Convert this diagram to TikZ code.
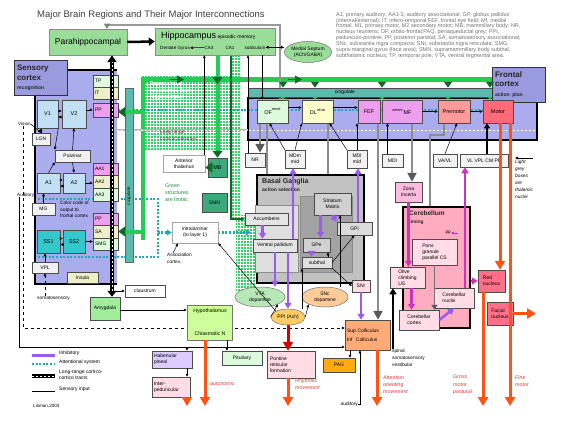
\documentclass[tikz,border=0pt]{standalone}
\usepackage{fontspec}
\setmainfont{Liberation Sans}
\usetikzlibrary{arrows.meta,patterns,shapes.geometric,decorations.markings}

\definecolor{lav}{HTML}{AAACEE}
\definecolor{lavbox}{HTML}{9A9ADF}
\definecolor{hipgreen}{HTML}{99DD99}
\definecolor{papezgreen}{HTML}{33D466}
\definecolor{limegreen}{HTML}{22CC55}
\definecolor{dkgreen}{HTML}{0F6A2A}
\definecolor{cingteal}{HTML}{5BBAAB}
\definecolor{mbgreen}{HTML}{3AAA7A}
\definecolor{lblue}{HTML}{C2E0F4}
\definecolor{thal}{HTML}{F2F2F2}
\definecolor{ssblue}{HTML}{33C8CC}
\definecolor{assoctan}{HTML}{EEEECA}
\definecolor{areapink}{HTML}{EE9EEE}
\definecolor{paleg}{HTML}{DDFADD}
\definecolor{paley}{HTML}{FFFFCC}
\definecolor{premot}{HTML}{FF9A9A}
\definecolor{motred}{HTML}{FF6A78}
\definecolor{inhib}{HTML}{9A5CEE}
\definecolor{magen}{HTML}{CC33BB}
\definecolor{attncol}{HTML}{22A8B8}
\definecolor{outorange}{HTML}{FF5214}
\definecolor{outlabel}{HTML}{DD3838}
\definecolor{cerepink}{HTML}{FFABC0}
\definecolor{palepink}{HTML}{FFDCE6}
\definecolor{amyg}{HTML}{A0EE9A}
\definecolor{hypo}{HTML}{CCFF99}
\definecolor{haben}{HTML}{DDCCFF}
\definecolor{peach}{HTML}{FFAA77}
\definecolor{sncol}{HTML}{FFCC99}
\definecolor{ppicol}{HTML}{FFCC66}
\definecolor{pagcol}{HTML}{FFAA11}
\definecolor{rednuc}{HTML}{FF6F88}
\definecolor{zona}{HTML}{FFBBDD}

\pgfdeclarelayer{bg}
\pgfdeclarelayer{back}
\pgfsetlayers{bg,back,main}

\newcommand{\supnote}[1]{\raisebox{3.5pt}{\fontsize{3.8}{4}\selectfont #1}}

\tikzset{
  box/.style={draw=black!70, line width=.5pt, inner sep=.5pt, align=center,
    font=\fontsize{5}{5.8}\selectfont},
  col/.style={box, minimum width=25pt, minimum height=12pt, text width=21pt, align=left},
  ell/.style={ellipse, draw=black!55, line width=.5pt, inner sep=0pt, align=center,
    font=\fontsize{5}{5.8}\selectfont},
  txt/.style={inner sep=0pt, align=left, font=\fontsize{5}{5.8}\selectfont},
  bigtitle/.style={font=\bfseries\fontsize{8}{9.5}\selectfont, text=black!85},
  outtxt/.style={txt, text=outlabel, font=\itshape\fontsize{5.3}{7.2}\selectfont},
  thinarr/.style={draw=black, line width=.5pt, -{Triangle[length=3pt,width=2.6pt]}},
  grayarr/.style={draw=black!45, line width=2.2pt, -{Triangle[length=9pt,width=9pt,color=black!65]}},
  inhibarr/.style={draw=inhib, line width=2.6pt, -{Triangle[length=6pt,width=7pt]}},
  magarr/.style={draw=magen, line width=2.6pt, -{Triangle[length=6pt,width=7pt]}},
  outarr/.style={draw=outorange, line width=3pt, -{Triangle[length=9pt,width=10pt]}},
  limbarr/.style={draw=limegreen, line width=4pt, -{Triangle[length=7pt,width=10pt,color=dkgreen]}},
  attn/.style={draw=attncol, line width=2.2pt, dash pattern=on 2pt off 1.6pt},
  tract/.style={draw=black, line width=3.2pt,
    {Triangle[length=6pt,width=9pt]}-{Triangle[length=7pt,width=9pt]},
    postaction={draw=white, line width=.9pt, dash pattern=on 2pt off 2pt, arrows=-,
      shorten <=6pt, shorten >=7pt}},
}

\begin{document}
\begin{tikzpicture}[x=1pt,y=-1pt]
\useasboundingbox (0,0) rectangle (567,420);

% ---------- regions
\begin{pgfonlayer}{bg}
\fill[white] (0,0) rectangle (567,420);
\fill[lav] (35,70) rectangle (117,284);
\draw[line width=2.5pt] (67,70) -- (117,70);
\draw[line width=2.5pt] (35,95) -- (35,284) -- (117,284);
\fill[lav] (248,98) rectangle (537,140);
\draw[line width=2pt] (248,98) rectangle (537,140);
\fill[papezgreen] (142,76) rectangle (232,150) (232,55) rectangle (240,220) (236,215) rectangle (255,292);
\fill[pattern=grid, pattern color=white] (142,76) rectangle (232,150) (232,55) rectangle (240,220) (236,215) rectangle (255,292);
\draw[limegreen, line width=5pt] (142,79.5) -- (492,79.5);
\draw[limegreen, line width=4pt] (143,77) -- (143,240);
\end{pgfonlayer}

% ---------- texts
\node[txt, anchor=west, font=\fontsize{9.5}{11}\selectfont, text=black!75] (title) at (37,15)
  {Major Brain Regions and Their Major Interconnections};
\node[txt, anchor=north west, text=black!55, font=\fontsize{5.5}{5.85}\selectfont] (abbrev) at (336,12)
  {A1, primary auditory; AA1-3, auditory associational; GP, globus pallidus\\
   (internal/external); IT, infero-temporal;FEF, frontal eye field; Mf, medial\\
   frontal, M1, primary motor, M2 secondary motor; MB, mammillary body; NR,\\
   nucleus reuniens; OF, orbito-frontal;PAQ, periaqueductal grey; PPI,\\
   pedunculo-pontine; PP, posterior parietal; SA, somatosensory associational;\\
   SNc, substantia nigra compacta; SNr, substantia nigra reticulata; SMG,\\
   supra-marginal gyrus (face area); SMN, supramammillary body subthal,\\
   subthalamic nucleus; TP, temporal pole; VTA, ventral tegmental area.};

% ---------- hippocampal formation
\node[box, fill=hipgreen, draw=black!45, minimum width=78pt, minimum height=26pt,
  font=\fontsize{8.5}{10}\selectfont] (parahip) at (88,42) {Parahippocampal};
\node[box, fill=hipgreen, draw=black!45, minimum width=120pt, minimum height=27pt] (hippo) at (215,41.5) {};
\node[txt, anchor=base west] (hippolbl) at (161,39)
  {{\fontsize{9}{10}\selectfont Hippocampus} {\fontsize{5}{6}\selectfont episodic memory}};
\node[txt, anchor=base west, font=\fontsize{4.6}{5}\selectfont] (DG) at (160,49) {Dentate Gyrus};
\node[txt, anchor=base, font=\fontsize{4.6}{5}\selectfont] (CA3) at (209,49) {CA3};
\node[txt, anchor=base, font=\fontsize{4.6}{5}\selectfont] (CA1) at (230,49) {CA1};
\node[txt, anchor=base, font=\fontsize{4.6}{5}\selectfont] (subic) at (255,49) {subiculum};
\node[ell, fill=hipgreen, minimum width=47pt, minimum height=21pt] (septum) at (308,52) {Medial Septum\\(ACh/GABA)};

% ---------- sensory cortex
\node[box, fill=lavbox, draw=black!80, line width=1pt, minimum width=53pt, minimum height=34pt,
  text width=47pt, align=left, bigtitle] (senscx) at (40.5,78)
  {Sensory\\cortex\\{\fontsize{5}{6}\selectfont recognition}};
\node[box, fill=lblue, minimum width=21pt, minimum height=28pt, font=\fontsize{5.5}{6}\selectfont] (V1) at (47.5,114) {V1};
\node[box, fill=lblue, minimum width=24pt, minimum height=28pt, font=\fontsize{5.5}{6}\selectfont] (V2) at (74,114) {V2};
\node[box, fill=thal, minimum width=18pt, minimum height=12pt] (LGN) at (41,139) {LGN};
\node[box, fill=thal, minimum width=35pt, minimum height=12pt] (pulv) at (72.5,156) {Pulvinar};
\node[box, fill=lblue, minimum width=23pt, minimum height=20pt, font=\fontsize{5.5}{6}\selectfont] (A1) at (48.5,183) {A1};
\node[box, fill=lblue, minimum width=22pt, minimum height=20pt, font=\fontsize{5.5}{6}\selectfont] (A2) at (74,183) {A2};
\node[box, fill=thal, minimum width=23pt, minimum height=12pt] (MG) at (43.5,209) {MG};
\node[box, fill=ssblue, minimum width=23pt, minimum height=23pt, font=\fontsize{5.5}{6}\selectfont] (SS1) at (48.5,241.5) {SS1};
\node[box, fill=ssblue, minimum width=22pt, minimum height=23pt, font=\fontsize{5.5}{6}\selectfont] (SS2) at (74,241.5) {SS2};
\node[box, fill=thal, minimum width=26pt, minimum height=11pt] (VPL) at (45,267.5) {VPL};
\node[box, fill=assoctan, minimum width=31pt, minimum height=11pt] (insula) at (82.5,277.5) {Insula};
\node[col, fill=paleg] (TP) at (105.5,81) {TP};
\node[col, fill=assoctan] (IT) at (105.5,93) {IT};
\node[col, fill=areapink, minimum height=14pt] (PP) at (105.5,110) {PP};
\node[col, fill=areapink] (AA1) at (105.5,169) {AA1};
\node[col, fill=assoctan, minimum height=13pt] (AA2) at (105.5,181.5) {AA2};
\node[col, fill=paleg, minimum height=13pt] (AA3) at (105.5,194.5) {AA3};
\node[col, fill=areapink] (PPb) at (105.5,219) {PP};
\node[col, fill=assoctan, minimum height=13pt] (SA) at (105.5,231.5) {SA};
\node[col, fill=paleg] (SMG) at (105.5,244) {SMG};
\node[txt, anchor=west, font=\fontsize{4.6}{5}\selectfont] (vision) at (18,124) {Vision};
\node[txt, anchor=west, font=\fontsize{4.6}{5}\selectfont] (audit) at (17,195) {Auditory};
\node[txt, anchor=north west, font=\fontsize{4.8}{6.5}\selectfont] (colorcode) at (60,201) {Color code of\\output to\\frontal cortex};
\node[txt, anchor=west, font=\fontsize{4.8}{5}\selectfont] (somato) at (37,298) {somatosensory};
\node[box, fill=white, minimum width=40pt, minimum height=12pt] (claustrum) at (145,291) {claustrum};
\node[box, fill=amyg, minimum width=30pt, minimum height=23pt] (amygdala) at (105,308.5) {Amygdala};

% ---------- limbic
\node[box, fill=cingteal, draw=black!60, minimum width=8pt, minimum height=174pt] (cingv) at (129,175) {};
\node[txt, rotate=90, font=\fontsize{4.5}{5}\selectfont] (cingvlbl) at (129,196) {cingulate};
\node[box, fill=cingteal, minimum width=244pt, minimum height=9pt] (cing) at (370,92.5) {};
\node[txt] (cinglbl) at (345,92.5) {cingulate};
\node[txt, anchor=north west, text=white, font=\bfseries\fontsize{5.2}{6.4}\selectfont] (papezlbl) at (150,82)
  {Papez circuit\\association from\\hippocampus};
\node[txt, anchor=north west, text=black!75, font=\fontsize{4.8}{7}\selectfont] (longlbl) at (160,130)
  {Long range\\cortical pathways};
\node[box, fill=white, draw=black!35, minimum width=42pt, minimum height=17pt] (antthal) at (184,163.5) {Anterior\\thalamus};
\node[box, fill=mbgreen, minimum width=19pt, minimum height=19pt, font=\fontsize{5.5}{6}\selectfont] (MB) at (217.5,167.5) {MB};
\node[box, fill=mbgreen, minimum width=25pt, minimum height=19pt] (SMN) at (214.5,202.5) {SMN};
\node[txt, anchor=north west, text=limegreen!70!black, font=\fontsize{5.3}{7}\selectfont] (greenlbl) at (165,184)
  {Green\\structures\\are limbic};
\node[box, fill=white, draw=black!35, minimum width=46pt, minimum height=21pt] (intral) at (195,232.5) {intralaminar\\(to layer 1)};
\node[txt, anchor=north west, font=\fontsize{4.8}{6.5}\selectfont] (assoc) at (167,253) {Association\\cortex,};

% ---------- frontal cortex
\node[box, fill=lavbox, draw=black!80, line width=1pt, minimum width=53pt, minimum height=35pt,
  text width=47pt, align=left, bigtitle] (frontcx) at (518.5,84.5)
  {Frontal\\cortex\\{\fontsize{5}{6}\selectfont action plan}};
\node[box, fill=paleg, minimum width=31pt, minimum height=23pt, font=\fontsize{5.5}{6}\selectfont] (OF) at (272.5,111.5) {OF\supnote{emot}};
\node[box, fill=paley, minimum width=31pt, minimum height=23pt, font=\fontsize{5.5}{6}\selectfont] (DL) at (317.5,111.5) {DL\supnote{what}};
\node[box, fill=areapink, minimum width=22pt, minimum height=23pt, font=\fontsize{5.5}{6}\selectfont] (FEF) at (369,111.5) {FEF};
\node[box, fill=areapink, minimum width=40pt, minimum height=23pt, font=\fontsize{5.5}{6}\selectfont] (MF) at (402,111.5) {\supnote{where}\,MF};
\node[box, fill=premot, minimum width=32pt, minimum height=23pt, font=\fontsize{5.5}{6}\selectfont] (premot) at (454,111.5) {Premotor};
\node[box, fill=motred, minimum width=30pt, minimum height=23pt, font=\fontsize{5.5}{6}\selectfont] (motor) at (498,111.5) {Motor};

% ---------- thalamus
\node[box, fill=thal, minimum width=20pt, minimum height=14pt] (NR) at (255,160) {NR};
\node[box, fill=thal, minimum width=20pt, minimum height=18pt] (MDm) at (295,159) {MDm\\mid};
\node[box, fill=thal, minimum width=20pt, minimum height=18pt] (MDl) at (357,159) {MDl\\mid};
\node[box, fill=thal, minimum width=21pt, minimum height=13pt] (MDI) at (392.5,160.5) {MDI};
\node[box, fill=thal, minimum width=24pt, minimum height=13pt] (VAVL) at (445,160.5) {VA/VL};
\node[box, fill=thal, minimum width=48pt, minimum height=13pt] (VLVPL) at (484,160.5) {VL VPL CM PF};
\node[txt, anchor=north west, font=\itshape\fontsize{4.8}{7}\selectfont] (lightlbl) at (515,160)
  {Light\\grey\\boxes\\are\\thalamic\\nuclei};
\coordinate (lightarr) at (533,158);

% ---------- basal ganglia
\node[box, fill=black!24, draw=black, line width=2pt, minimum width=107pt, minimum height=108pt] (BG) at (310.5,229) {};
\node[box, fill=black!13, draw=black!45, minimum width=43pt, minimum height=67pt] (ventral) at (276.5,238.5) {};
\node[box, fill=black!36, draw=black!45, minimum width=52pt, minimum height=76pt] (dorsal) at (326,234) {};
\node[txt, anchor=north west, bigtitle, font=\bfseries\fontsize{7}{8.5}\selectfont] (BGlbl) at (262,178)
  {Basal Ganglia\\{\fontsize{5}{6}\selectfont action selection}};
\node[box, fill=black!18, minimum width=37pt, minimum height=22pt] (striatum) at (332.5,204) {Striatum\\Matrix};
\node[box, fill=black!10, minimum width=43pt, minimum height=12pt] (accumb) at (266.5,219) {Accumbens};
\node[box, fill=black!10, minimum width=44pt, minimum height=13pt] (vpall) at (275,245.5) {Ventral pallidum};
\node[box, fill=black!18, minimum width=27pt, minimum height=14pt] (GPe) at (316.5,245) {GPe};
\node[box, fill=black!12, minimum width=30pt, minimum height=11pt] (subthal) at (317,262.5) {subthal};
\node[box, fill=black!14, minimum width=35pt, minimum height=13pt] (GPi) at (354.5,228.5) {GPi};
\node[ell, fill=hipgreen!70!white, minimum width=50pt, minimum height=20pt] (VTA) at (260,297) {VTA\\dopamine};
\node[ell, fill=sncol, minimum width=46pt, minimum height=20pt] (SNc) at (325,297) {SNc\\dopamine};
\node[ell, fill=ppicol, minimum width=34pt, minimum height=16pt] (PPI) at (288,317) {PPI (Ach)};
\node[box, fill=palepink, minimum width=18pt, minimum height=12pt] (SNr) at (361,286) {SNr};

% ---------- cerebellum
\node[box, fill=zona, minimum width=27pt, minimum height=20pt] (zona) at (408.5,192) {Zona\\Incerta};
\node[box, fill=cerepink, draw=black, line width=2pt, minimum width=67pt, minimum height=121pt] (cereb) at (436.5,267.5) {};
\node[txt, anchor=north west, bigtitle, font=\bfseries\fontsize{6.5}{7.5}\selectfont] (cereblbl) at (409,211)
  {Cerebellum\\{\fontsize{4.8}{5.5}\selectfont timing}};
\node[box, fill=palepink, minimum width=45pt, minimum height=26pt, align=left] (pons) at (434.5,252) {Pons\\granule\\parallel CS};
\node[box, fill=palepink, minimum width=35pt, minimum height=21pt, align=left] (olive) at (407.5,277.5) {Olive\\climbing\\US};
\node[box, fill=palepink, minimum width=40pt, minimum height=20pt, align=left] (cnuc) at (454,298) {Cerebellar\\nuclei};
\node[box, fill=palepink, minimum width=40pt, minimum height=20pt, align=left] (ccortex) at (419,320) {Cerebellar\\cortex};
\node[txt, anchor=east, font=\fontsize{4.6}{5}\selectfont] (pplbl) at (451,233) {pp};
\node[box, fill=rednuc, minimum width=27pt, minimum height=22pt, align=left] (rednuc) at (491.5,281) {Red\\nucleus};
\node[box, fill=rednuc, minimum width=26pt, minimum height=23pt, align=left] (facial) at (500,313.5) {Facial\\nucleus};

% ---------- brainstem
\node[box, fill=hypo, draw=black!55, minimum width=45pt, minimum height=35pt] (hypoth) at (209.5,322.5) {};
\node[txt, font=\fontsize{5.2}{6}\selectfont] (hypolbl) at (210,311) {Hypothalamus};
\node[txt, font=\fontsize{5.2}{6}\selectfont] (chiasm) at (210,334) {Chiasmatic N};
\node[box, fill=haben, minimum width=40pt, minimum height=17pt, text width=36pt, align=left] (haben) at (172,359.5) {Habenular\\pineal};
\node[box, fill=palepink, minimum width=38pt, minimum height=20pt, text width=34pt, align=left] (interp) at (171,387) {Inter-\\peduncular};
\node[box, fill=paleg, minimum width=40pt, minimum height=14pt] (pituit) at (242,358) {Pituitary};
\node[box, fill=palepink, minimum width=48pt, minimum height=27pt, text width=42pt, align=left] (pontine) at (291,364.5) {Pontine\\reticular\\formation};
\node[box, fill=pagcol, minimum width=32pt, minimum height=14pt] (PAG) at (339,365) {PAG};
\node[box, fill=peach, minimum width=45pt, minimum height=30pt, text width=41pt, align=left] (supc) at (367.5,335) {Sup Colliculus\\[3pt]Inf\ \ Colliculus};
\node[txt, anchor=north west, font=\fontsize{4.8}{6.8}\selectfont] (spinal) at (392,349) {spinal\\somatosensory\\vestibular};
\node[txt, anchor=base east, font=\fontsize{4.8}{5}\selectfont] (audlbl) at (358,405) {auditory};

% ---------- output labels
\node[outtxt, anchor=base west] (autolbl) at (210,385) {autonomic};
\node[outtxt, anchor=north west] (rhythlbl) at (295,378) {Rhythmic\\movement};
\node[outtxt, anchor=north west] (orientlbl) at (383,375) {Attention\\orienting\\movement};
\node[outtxt, anchor=north west] (grosslbl) at (453,375) {Gross\\motor\\postural};
\node[outtxt, anchor=north west] (finelbl) at (515,375) {Fine\\motor};
\coordinate (endinterp) at (187,406);
\coordinate (endchiasm) at (205,406);
\coordinate (endpontine) at (288,406);
\coordinate (endsupc) at (377,406);
\coordinate (endred) at (483,406);
\coordinate (endmotor) at (510,406);
\coordinate (endfacial) at (536,313.5);

% ---------- legend
\coordinate (legA) at (32,355); \coordinate (legB) at (32,364);
\coordinate (legC) at (32,376); \coordinate (legD) at (32,391);
\draw[inhib, line width=3pt] (legA) -- ++(23,0);
\draw[attn] (legB) -- ++(23,0);
\draw[line width=3.2pt] (legC) -- ++(23,0);
\draw[white, line width=.9pt, dash pattern=on 2pt off 2pt] (legC) -- ++(23,0);
\draw[line width=.5pt] (legD) -- ++(23,0);
\node[txt, anchor=west] (legAt) at (59,353) {Inhibitory};
\node[txt, anchor=west] (legBt) at (59,362) {Attentional system};
\node[txt, anchor=west] (legCt) at (59,375) {Long-range cortico-\\cortico tracts};
\node[txt, anchor=west] (legDt) at (59,389) {Sensory input};
\node[txt, anchor=west, font=\fontsize{4.6}{5}\selectfont] (author) at (33,406) {Lisman,2003};

% ---------- connectors under boxes
\begin{pgfonlayer}{back}
\draw[attn] (PP.east) -- (PP.east -| motor.west);
\coordinate (attnA) at (38,199); \coordinate (attnB) at (38,257);
\draw[attn] (attnA) -| ([xshift=-14pt]intral.west);
\draw[attn] (attnB) -| ([xshift=-14pt]intral.west);
\draw[attn, -{Triangle[length=5pt,width=6pt]}] ([xshift=-14pt]intral.west) -- (intral.west);
\coordinate (attnC) at (251,232.5);
\draw[attn, -{Triangle[length=5pt,width=6pt]}] (intral.east) -- (attnC);
\coordinate (tractL) at (117,130); \coordinate (tractR) at (535,130);
\draw[draw=black!30, line width=2pt] (tractL) -- (tractR);
\draw[white, line width=.7pt, dash pattern=on 2pt off 2pt] (tractL) -- (tractR);
\draw[dashed, line width=.5pt, -{Triangle[length=3pt,width=2.6pt]}] ([xshift=5pt]vision.south west) |- ([yshift=7pt]supc.west);
\draw[thinarr] ([xshift=2pt]audit.south west) |- ([yshift=-12pt]supc.west);
\draw[draw=black!40, line width=1.8pt, -{Triangle[length=5pt,width=6pt,color=black!50]}]
  ([xshift=7.5pt]OF.north) -- ++(0,-75) -| ([xshift=19pt]parahip.north);
\coordinate (fimb) at (231,55);
\draw[dkgreen, line width=1.2pt, -{Triangle[length=4pt,width=4pt]}] (fimb) |- (accumb.west);
\draw[grayarr] ([xshift=-12.5pt]OF.south) -- ([xshift=-12.5pt]OF.south |- NR.north);
\draw[grayarr] ([xshift=-5.5pt]OF.south) -- ([xshift=-5.5pt]OF.south |- accumb.north);
\draw[grayarr] ([xshift=10.5pt]DL.south) -- ([xshift=10.5pt]DL.south |- striatum.north);
\draw[grayarr] ([xshift=10pt]MF.south) -- ([xshift=10pt]MF.south |- zona.north);
\draw[grayarr] ([xshift=9pt]FEF.south) -- ([xshift=9pt]FEF.south |- supc.north);
\draw[grayarr] ([xshift=-10pt]premot.south) -- ++(0,12) -| ([xshift=-4.5pt]pons.north);
\end{pgfonlayer}

% ---------- green limbic connectors
\foreach \bx/\dx in {OF/10.5, DL/-2.5, MF/-20, premot/-6, motor/-8}{
  \draw[dkgreen, line width=1.5pt, -{Triangle[length=6pt,width=8pt]}] ([xshift=\dx pt]\bx.north |- 0,82) -- ([xshift=\dx pt]\bx.north |- cing.north);
  \draw[limegreen, line width=1.5pt, -{Triangle[length=3pt,width=5pt]}] ([xshift=\dx pt]\bx.north |- cing.south) -- ([xshift=\dx pt]\bx.north);
}
\draw[dkgreen, line width=1pt, -{Triangle[length=7pt,width=8pt]}] (170,79.5) -- (184,79.5);
\draw[dkgreen, line width=1pt, -{Triangle[length=7pt,width=8pt]}] (288,79.5) -- (302,79.5);
\draw[limbarr, postaction={decorate, decoration={markings,
  mark=at position 0.28 with {\arrow{Triangle[length=7pt,width=10pt,color=dkgreen]}}}}]
  (hippo.south -| MB.north) -- (MB.north);
\draw[limbarr] (MB.west) -- (MB.west -| antthal.east);
\coordinate (limbPP) at (143,112); \coordinate (limbSA) at (143,231.5);
\draw[limbarr] (limbPP) -- (limbPP -| PP.east);
\draw[limbarr] (limbSA) -- (limbSA -| SA.east);

% ---------- tracts
\draw[tract] ([xshift=7pt]amygdala.north) -- ([xshift=7pt]amygdala.north |- parahip.south);
\draw[thinarr] ([xshift=7pt]amygdala.north |- claustrum.west) -- (claustrum.west);

% ---------- thin connectors
\draw[draw=black, line width=2.5pt, -{Triangle[length=6pt,width=8pt]}] (parahip.east) -- (hippo.west);
\draw[thinarr] (CA3.west) -- (DG.east);
\draw[thinarr, {Triangle[length=3pt,width=2.6pt]}-{Triangle[length=3pt,width=2.6pt]}] (subic.east) -- (subic.east -| septum.west);
\draw[thinarr] ([xshift=-7pt]NR.north) -- ([xshift=-7pt]NR.north |- hippo.south);
\draw[thinarr] ([xshift=-1pt]antthal.north east) -- ([xshift=-1pt]antthal.north east |- hippo.south);
\draw[thinarr, line width=1pt] ([xshift=47pt]hippo.south) -- ([xshift=47pt]hippo.south |- OF.north);
\draw[thinarr] (vision.east) -- (LGN.north);
\draw[thinarr] (LGN.north) -- (LGN.north |- V1.south);
\draw[thinarr] ([yshift=3pt]V1.east) -- ([yshift=3pt]V2.west);
\draw[thinarr] ([yshift=-3pt]V2.west) -- ([yshift=-3pt]V1.east);
\draw[thinarr] (V2.east |- PP.west) -- (PP.west);
\draw[thinarr] (pulv.north) -- (V2.south);
\draw[thinarr] (V1.south east) -- (pulv.north west);
\draw[thinarr] (A1.north) -- (pulv.south west);
\draw[thinarr] (pulv.south) -- (A2.north);
\draw[thinarr] ([yshift=3pt]A1.east) -- ([yshift=3pt]A2.west);
\draw[thinarr] ([yshift=-3pt]A2.west) -- ([yshift=-3pt]A1.east);
\draw[thinarr] (A2.east) -- (A2.east -| AA2.west);
\draw[thinarr] (MG.north) -- (MG.north |- A1.south);
\draw[thinarr] ([yshift=3pt]SS1.east) -- ([yshift=3pt]SS2.west);
\draw[thinarr] ([yshift=-3pt]SS2.west) -- ([yshift=-3pt]SS1.east);
\draw[thinarr] (SS2.east) -- (SS2.east -| SMG.west);
\draw[thinarr] (VPL.north) -- (VPL.north |- SS1.south);
\draw[dashed, thinarr] ([xshift=8pt]somato.north west) -- ([xshift=8pt]somato.north west |- VPL.south);
\draw[thinarr] (amygdala.east |- 0,310) -- (hypoth.west |- 0,310);
\draw[thinarr] ([xshift=17.5pt]hypoth.south) -- ([xshift=17.5pt]hypoth.south |- pituit.north);
\draw[thinarr] ([xshift=15pt]haben.north |- 0,347) -- ([xshift=15pt]haben.north);
\draw[thinarr] ([xshift=15pt]haben.south) -- ([xshift=15pt]haben.south |- interp.north);
\draw[thinarr] ([xshift=-17.5pt]supc.south) -- ([xshift=-17.5pt]supc.south |- PAG.north);
\draw[thinarr] (audlbl.east) -| ([xshift=-7.5pt]supc.south);
\draw[draw=black, line width=2pt, -{Triangle[length=6pt,width=7pt]}] ([xshift=1pt]spinal.north west) -- ([xshift=1pt]spinal.north west |- olive.south);
\draw[thinarr] (assoc.north west) ++(6,0) -- ([xshift=-17pt]intral.south);
\draw[thinarr] (lightarr) -- (lightarr -| lightlbl.west);
% thalamus to frontal
\draw[thinarr] (MDm.north west) -- ([xshift=-3pt]OF.south);
\draw[thinarr] (MDm.north) -- (DL.south west);
\draw[thinarr] (MDl.north west) -- ([xshift=12pt]DL.south);
\draw[thinarr] (MDl.north) -- (MDl.north |- FEF.south);
\draw[thinarr] ([xshift=-5pt]MDI.north) -- ([xshift=-5pt]MDI.north |- MF.south);
\draw[thinarr] (VAVL.north) -- ([xshift=3pt]premot.south);
\draw[draw=black, line width=1.5pt, -{Triangle[length=5pt,width=6pt]}] ([xshift=-11pt]motor.south |- VLVPL.north) -- ([xshift=-11pt]motor.south);
\draw[thinarr] ([yshift=4pt]OF.east) -- ([yshift=4pt]DL.west);
\draw[thinarr] ([yshift=4pt]DL.east) -- ([yshift=4pt]FEF.west);
\draw[thinarr] (MF.east) -- (premot.west);
\draw[thinarr] (premot.east) -- (motor.west);
% basal ganglia
\draw[thinarr] (PPI.north west) -- (intral.south east);
\draw[thinarr] (PPI.west) -- (VTA.south east);
\draw[thinarr] (PPI.east) -- (SNc.south west);
\draw[thinarr] ([xshift=14pt]PPI.north) -- ([xshift=14pt]PPI.north |- subthal.south);
\draw[thinarr] (subthal.east) -- (GPi.south);
\draw[thinarr] (subthal.south east) -- (SNr.west);
\draw[thinarr] ([xshift=11pt]subthal.north) -- ([xshift=11pt]subthal.north |- GPe.south);
\draw[thinarr] ([xshift=15pt]SNc.north) -- ([xshift=15pt]SNc.north |- striatum.south);
% inhibitory
\draw[inhibarr] ([xshift=-12pt]striatum.south) -- ([xshift=-12pt]striatum.south |- GPe.north);
\draw[inhibarr] (striatum.south) -- (GPi.north west);
\draw[inhibarr] ([xshift=-4pt]accumb.south) -- ([xshift=-4pt]accumb.south |- vpall.north);
\draw[inhibarr] (vpall.south) -- (vpall.south |- VTA.north);
\draw[inhibarr] ([xshift=13pt]vpall.south) -- ([xshift=13pt]vpall.south |- PPI.north);
\draw[inhibarr] ([xshift=18pt]vpall.north) -- ([xshift=18pt]vpall.north |- MDm.south);
\draw[inhibarr] ([xshift=3.5pt]GPi.north) -- ([xshift=3.5pt]GPi.north |- MDl.south);
\draw[inhibarr, line width=1.8pt] ([xshift=-5pt]GPe.south) -- ([xshift=-5pt]GPe.south |- subthal.north);
\draw[inhibarr] (SNr.south) -- (SNr.south |- supc.north);
\draw[inhibarr] (ccortex.east) -- (cnuc.south);
% cerebellar
\draw[magarr] ([xshift=11pt]cnuc.north) -- ([xshift=11pt]cnuc.north |- VLVPL.south);
\draw[magarr] (zona.south) -- (zona.south |- olive.north);
\draw[magarr] ([xshift=4pt]olive.south) -- ([xshift=4pt]olive.south |- ccortex.north);
\draw[magarr, line width=1.5pt] (cereb.east |- rednuc.west) -- (rednuc.west);
\draw[magen, line width=1pt, -{Triangle[length=3pt,width=3pt]}] ([xshift=7pt]pplbl.east) -- (pplbl.east);
\draw[draw=black!55, line width=1.2pt, -{Triangle[length=5pt,width=6pt,color=black!65]}] (pons.south) -- (pons.south |- ccortex.north);
% outputs
\draw[outarr] ([xshift=2pt]motor.south) -- ([xshift=2pt]motor.south |- rednuc.north);
\draw[outarr] ([xshift=12pt]motor.south) -- (endmotor);
\draw[outarr] ([xshift=-8.5pt]rednuc.south) -- (endred);
\draw[outarr] (facial.east) -- (endfacial);
\draw[outarr] ([xshift=9.5pt]supc.south) -- (endsupc);
\draw[outarr] (pontine.south -| endpontine) -- (endpontine);
\draw[outarr, draw=red!85!black] (PPI.south) -- (PPI.south |- pontine.north);
\draw[outarr] (hypoth.south -| endchiasm) -- (endchiasm);
\draw[outarr] (interp.south -| endinterp) -- (endinterp);
\end{tikzpicture}
\end{document}
